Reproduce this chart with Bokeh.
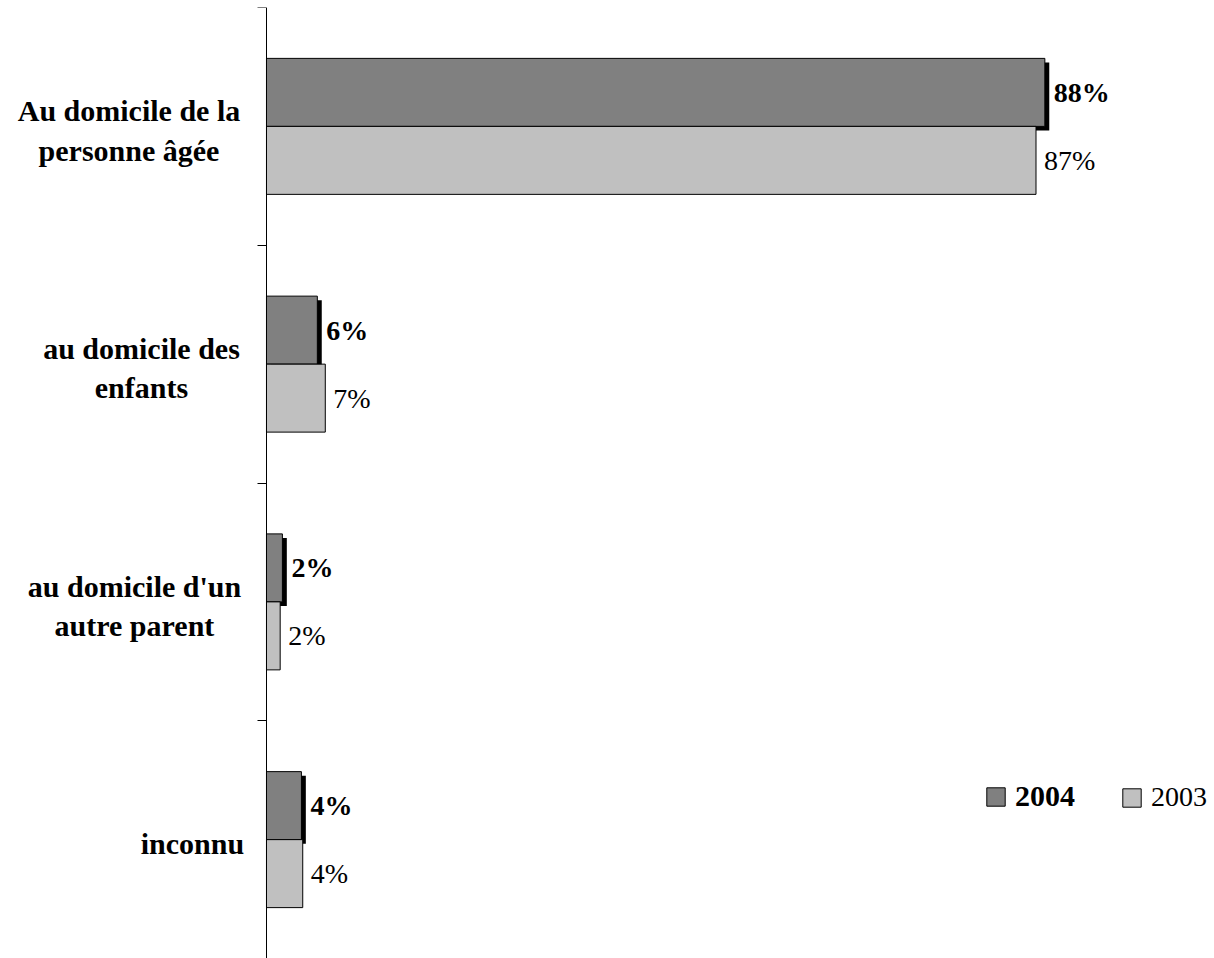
from bokeh.plotting import figure
from bokeh.models import Range1d, FixedTicker, ColumnDataSource, Legend, LegendItem
from bokeh.core.properties import value
from bokeh.embed import file_html
from bokeh.resources import INLINE

# ---------------- data ----------------
categories = ["Au domicile de la\npersonne âgée",
              "au domicile des\nenfants",
              "au domicile d'un\nautre parent",
              "inconnu"]
series_names = ["2004", "2003"]
values_2004 = [88.0, 5.75, 1.8, 3.95]
values_2003 = [87.0, 6.65, 1.55, 4.1]
labels_2004 = ["88%", "6%", "2%", "4%"]
labels_2003 = ["87%", "7%", "2%", "4%"]

# ---------------- style ----------------
FONT = "Liberation Serif"
DARK = "#808080"
LIGHT = "#C0C0C0"
BAR_H = 0.286              # bar thickness (category units)
SHADOW_DX = 0.5            # shadow offset (value units)
SHADOW_DY = 0.017          # shadow offset (category units)
CAT_LABEL_XOFF = [-137.5, -125, -132, -74]   # screen px from axis

n = len(categories)
cat_pos = [i + 0.5 for i in range(n)]
y04 = [c - BAR_H / 2 for c in cat_pos]
y03 = [c + BAR_H / 2 for c in cat_pos]

p = figure(width=1214, height=958, output_backend="svg", toolbar_location=None,
           x_range=Range1d(-30.07, 107.18), y_range=Range1d(n, 0),
           x_axis_location=None, min_border_left=0, min_border_right=0,
           min_border_top=7, min_border_bottom=0)
p.outline_line_color = None
p.grid.visible = False
p.background_fill_color = "white"
p.border_fill_color = "white"

yax = p.yaxis[0]
yax.fixed_location = 0
yax.ticker = FixedTicker(ticks=list(range(n + 1)))
yax.major_label_overrides = {i: "" for i in range(n + 1)}
yax.major_label_text_font_size = "1px"
yax.major_label_standoff = 0
yax.major_tick_out = 9
yax.major_tick_in = 0
yax.minor_tick_line_color = None
yax.axis_line_color = "black"
yax.major_tick_line_color = "black"

src04 = ColumnDataSource(dict(y=y04, v=values_2004,
                              sy=[y + SHADOW_DY for y in y04],
                              sl=[SHADOW_DX] * n,
                              sr=[v + SHADOW_DX for v in values_2004],
                              lab=labels_2004))
src03 = ColumnDataSource(dict(y=y03, v=values_2003, lab=labels_2003))

# shadow for 2004 bars
p.hbar(y="sy", left="sl", right="sr", height=BAR_H, source=src04,
       fill_color="black", line_color=None)
r04 = p.hbar(y="y", left=0, right="v", height=BAR_H, source=src04,
             fill_color=DARK, line_color="black", line_width=1)
r03 = p.hbar(y="y", left=0, right="v", height=BAR_H, source=src03,
             fill_color=LIGHT, line_color="black", line_width=1)

p.text(x="v", y="y", text="lab", source=src04, x_offset=9,
       text_align="left", text_baseline="middle",
       text_font=value(FONT), text_font_size="28px", text_font_style="bold",
       text_color="black")
p.text(x="v", y="y", text="lab", source=src03, x_offset=8,
       text_align="left", text_baseline="middle",
       text_font=value(FONT), text_font_size="28px", text_font_style="normal",
       text_color="black")

cat_src = ColumnDataSource(dict(x=[0] * n, y=cat_pos, text=categories,
                                xoff=CAT_LABEL_XOFF))
p.text(x="x", y="y", text="text", source=cat_src, x_offset="xoff", y_offset=4,
       text_align="center", text_baseline="middle",
       text_font=value(FONT), text_font_size="30px", text_font_style="bold",
       text_line_height=1.2, text_color="black")

def make_legend(label, renderer, loc, style, size):
    return Legend(items=[LegendItem(label=label, renderers=[renderer])],
                  location=loc, orientation="horizontal",
                  padding=0, margin=0, spacing=0,
                  glyph_width=23, glyph_height=23, label_standoff=8,
                  border_line_color=None, background_fill_alpha=0,
                  label_text_font=FONT, label_text_font_size=size,
                  label_text_font_style=style, label_text_color="black")

p.add_layout(make_legend(series_names[0], r04, (984, 145), "bold", "30px"))
p.add_layout(make_legend(series_names[1], r03, (1120, 145), "normal", "28px"))

open("out.html", "w").write(file_html(p, INLINE))
